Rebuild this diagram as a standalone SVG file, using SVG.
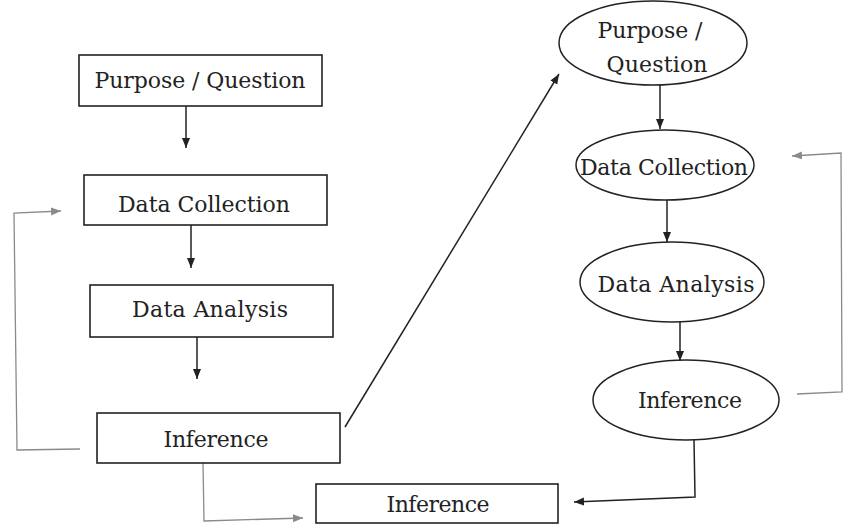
<svg xmlns="http://www.w3.org/2000/svg" width="845" height="529" viewBox="0 0 845 529">
<style>
.box{fill:#fff;stroke:#222;stroke-width:1.6}
.ell{fill:#fff;stroke:#222;stroke-width:1.5}
.t{font-family:"DejaVu Serif","Liberation Serif",serif;font-size:22px;fill:#222;text-anchor:middle}
.c{fill:none;stroke:#222;stroke-width:1.5}
.g{fill:none;stroke:#8a8a8a;stroke-width:1.3}
</style>
<defs>
<marker id="ab" markerUnits="userSpaceOnUse" markerWidth="12" markerHeight="10" refX="10" refY="4" orient="auto"><path d="M0,0 L10,4 L0,8 z" fill="#222"/></marker>
<marker id="ag" markerUnits="userSpaceOnUse" markerWidth="12" markerHeight="10" refX="10" refY="4" orient="auto"><path d="M0,0 L10,4 L0,8 z" fill="#8a8a8a"/></marker>
</defs>
<rect width="845" height="529" fill="#fff"/>
<g id="connectors">
<line class="c" x1="186" y1="106" x2="186" y2="148" marker-end="url(#ab)"/>
<line class="c" x1="191" y1="225" x2="191" y2="268" marker-end="url(#ab)"/>
<line class="c" x1="197" y1="337" x2="197" y2="379" marker-end="url(#ab)"/>
<line class="c" x1="345" y1="427" x2="559" y2="74" marker-end="url(#ab)"/>
<line class="c" x1="660" y1="85" x2="660" y2="129" marker-end="url(#ab)"/>
<line class="c" x1="667" y1="200" x2="667" y2="242" marker-end="url(#ab)"/>
<line class="c" x1="680" y1="322" x2="680" y2="361" marker-end="url(#ab)"/>
<polyline class="c" points="694,440 695,497 574,502" marker-end="url(#ab)"/>
<polyline class="g" points="80,449 17,450 14,213 61,211" marker-end="url(#ag)"/>
<polyline class="g" points="203,463 204,521 303,518" marker-end="url(#ag)"/>
<polyline class="g" points="797,394 842,392 841,153 792,156" marker-end="url(#ag)"/>
</g>
<g id="box-purpose"><rect class="box" x="79" y="55" width="243" height="51"/><text class="t" x="200" y="88" textLength="211">Purpose / Question</text></g>
<g id="box-collection"><rect class="box" x="84" y="175" width="243" height="50"/><text class="t" x="204" y="212" textLength="172">Data Collection</text></g>
<g id="box-analysis"><rect class="box" x="90" y="285" width="243" height="52"/><text class="t" x="210" y="317" textLength="156">Data Analysis</text></g>
<g id="box-inference"><rect class="box" x="97" y="413" width="243" height="50"/><text class="t" x="216" y="447" textLength="105">Inference</text></g>
<g id="box-inference-bottom"><rect class="box" x="316" y="484" width="242" height="39"/><text class="t" x="438" y="512" textLength="103">Inference</text></g>
<g id="ell-purpose"><ellipse class="ell" cx="653" cy="43" rx="94" ry="42"/><text class="t" x="650" y="38" textLength="105">Purpose /</text><text class="t" x="657" y="72" textLength="101">Question</text></g>
<g id="ell-collection"><ellipse class="ell" cx="665" cy="165" rx="89" ry="35"/><text class="t" x="664" y="175" textLength="168">Data Collection</text></g>
<g id="ell-analysis"><ellipse class="ell" cx="672" cy="282" rx="92" ry="40"/><text class="t" x="676" y="292" textLength="157">Data Analysis</text></g>
<g id="ell-inference"><ellipse class="ell" cx="686" cy="400" rx="93" ry="40"/><text class="t" x="690" y="408" textLength="104">Inference</text></g>
</svg>
